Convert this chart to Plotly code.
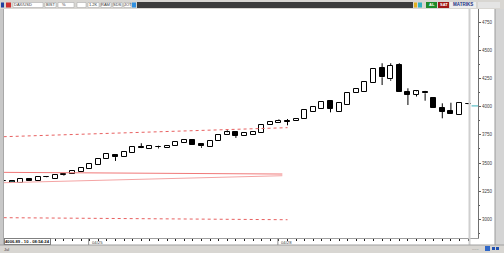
import plotly.graph_objects as go

W, H = 504, 253

# ---------------- data ----------------
idx = list(range(55))
opens = [3338, 3344, 3321, 3359, 3341, 3381, 3362, 3395, 3403, 3420,
         3450, 3486, 3539, 3569, 3551, 3592, 3640, 3627, 3646, 3638,
         3651, 3681, 3702, 3672, 3643, 3693, 3749, 3773, 3743, 3752,
         3764, 3835, 3858, 3872, 3870, 3891, 3956, 3980, 4050, 3956,
         4015, 4119, 4133, 4207, 4340, 4243, 4370, 4128, 4104, 4133,
         4080, 3986, 3962, 3926, 4028]
highs = [3345, 3346, 3359, 3359, 3379, 3383, 3397, 3410, 3427, 3456,
         3489, 3539, 3578, 3571, 3596, 3645, 3676, 3650, 3654, 3650,
         3687, 3702, 3702, 3672, 3693, 3752, 3791, 3773, 3764, 3776,
         3838, 3862, 3888, 3891, 3894, 3971, 3995, 4044, 4050, 4030,
         4119, 4154, 4216, 4332, 4385, 4385, 4385, 4163, 4145, 4140,
         4080, 4030, 4035, 4035, 4030]
lows = [3336, 3321, 3321, 3344, 3341, 3371, 3362, 3389, 3403, 3420,
        3450, 3486, 3539, 3519, 3551, 3592, 3633, 3627, 3630, 3638,
        3651, 3681, 3660, 3636, 3643, 3693, 3749, 3723, 3743, 3752,
        3764, 3835, 3858, 3835, 3870, 3891, 3956, 3980, 3950, 3956,
        4015, 4119, 4133, 4207, 4192, 4230, 4128, 4015, 4090, 4053,
        3986, 3897, 3935, 3926, 4018]
closes = [3343, 3321, 3359, 3344, 3379, 3373, 3397, 3403, 3427, 3456,
          3489, 3539, 3578, 3553, 3596, 3645, 3635, 3650, 3641, 3650,
          3687, 3702, 3660, 3649, 3693, 3752, 3773, 3740, 3764, 3776,
          3838, 3862, 3876, 3868, 3894, 3971, 3995, 4044, 3980, 4030,
          4119, 4154, 4216, 4332, 4261, 4361, 4128, 4106, 4136, 4119,
          3986, 3956, 3935, 4035, 4020]

# channel lines (candle index, price)
upper_dot_x = [0, 33]
upper_dot_y = [3734, 3814]
solid_a_x = [0, 32.4]
solid_a_y = [3418, 3403]
solid_b_x = [0, 32.4]
solid_b_y = [3326, 3388]
lower_dot_x = [0, 33]
lower_dot_y = [3016, 2998]

last_price = 4006.89
y_ticks = [3000, 3250, 3500, 3750, 4000, 4250, 4500, 4750]
y_tick_text = ["3000", "3250", "3500", "3750", "4000", "4250", "4500", "4750"]
date_labels = ["04/25", "04/28"]
date_label_idx = [10, 32]
status_text = "4006.89 - 10 - 08:54:24"

# ---------------- geometry helpers (chrome) ----------------
def px(x):
    return x / W

def py(y):
    return 1 - y / H

PLOT_L, PLOT_R, PLOT_T, PLOT_B = 4, 478, 9, 238

fig = go.Figure()

# wicks
wx, wy = [], []
for i, o, h, l, c in zip(idx, opens, highs, lows, closes):
    top, bot = max(o, c), min(o, c)
    if h > top:
        wx += [i, i, None]
        wy += [h, top, None]
    if l < bot:
        wx += [i, i, None]
        wy += [bot, l, None]
fig.add_trace(go.Scatter(x=wx, y=wy, mode="lines",
                         line=dict(color="#000000", width=1),
                         hoverinfo="skip", showlegend=False))

# bodies
bases, heights, fills = [], [], []
for i, o, c in zip(idx, opens, closes):
    bases.append(min(o, c))
    heights.append(abs(c - o))
    if i == 1:
        fills.append("#1d4f4f")
    elif c >= o:
        fills.append("#ffffff")
    else:
        fills.append("#000000")
fig.add_trace(go.Bar(x=idx, y=heights, base=bases, width=0.6,
                     marker=dict(color=fills, line=dict(color="#000000", width=1)),
                     showlegend=False, hoverinfo="skip"))

# channel lines
fig.add_trace(go.Scatter(x=upper_dot_x, y=upper_dot_y, mode="lines",
                         line=dict(color="#e86060", width=1, dash="dot"),
                         showlegend=False, hoverinfo="skip"))
fig.add_trace(go.Scatter(x=solid_a_x, y=solid_a_y, mode="lines",
                         line=dict(color="#f07878", width=1),
                         showlegend=False, hoverinfo="skip"))
fig.add_trace(go.Scatter(x=solid_b_x, y=solid_b_y, mode="lines",
                         line=dict(color="#f4a4a4", width=1),
                         showlegend=False, hoverinfo="skip"))
fig.add_trace(go.Scatter(x=lower_dot_x, y=lower_dot_y, mode="lines",
                         line=dict(color="#e86060", width=1, dash="dot"),
                         showlegend=False, hoverinfo="skip"))

# current price marker
fig.add_trace(go.Scatter(x=[54.4, 55.2], y=[last_price, last_price], mode="lines",
                         line=dict(color="#3cb4bc", width=1),
                         showlegend=False, hoverinfo="skip", cliponaxis=False))

shapes = []
def rect(x0, y0, x1, y1, fill, line=None, lw=0):
    shapes.append(dict(type="rect", xref="paper", yref="paper",
                       x0=px(x0), x1=px(x1), y0=py(y1), y1=py(y0),
                       fillcolor=fill, line=dict(color=line or fill, width=lw),
                       layer="above"))
def vline(x, y0, y1, color, w=1):
    shapes.append(dict(type="line", xref="paper", yref="paper",
                       x0=px(x), x1=px(x), y0=py(y1), y1=py(y0),
                       line=dict(color=color, width=w), layer="above"))
def hline(y, x0, x1, color, w=1):
    shapes.append(dict(type="line", xref="paper", yref="paper",
                       x0=px(x0), x1=px(x1), y0=py(y), y1=py(y),
                       line=dict(color=color, width=w), layer="above"))

# top toolbar
rect(0, 0, 504, 9, "#d8d6d2")
rect(137, 2, 413, 8, "#3c3c3c")
for (a, b) in [(13, 43), (45, 56), (58, 74), (77, 86), (88, 99), (101, 111), (113, 122), (124, 131)]:
    rect(a, 2.5, b, 7.5, "#ffffff", "#a0a0a0", 0.5)
rect(1, 2.5, 4, 7.5, "#2040a0")
rect(6, 2.5, 11, 7.5, "#d03030")
rect(132, 2.5, 136, 7.5, "#3090e0")
rect(414, 2.5, 417, 7.5, "#e0b020")
rect(418, 2.5, 422, 7.5, "#30b0c0")
rect(426, 2, 437, 8, "#1e8a2a")
rect(438, 2, 449, 8, "#a01818")
rect(450, 2, 476, 8, "#eeeeee")
rect(478, 2, 500, 8, "#e4e4e4")

# left border
rect(0, 9, 3, 245, "#c8c8c8")
vline(3.5, 9, 245, "#a8a8a8", 1)
# right border
rect(495, 9, 504, 245, "#d4d4d4")
vline(495, 9, 245, "#9a9a9a", 1)
# separator near right
vline(469.5, 9, 245, "#cfcfcf", 2)
# bottom bar
rect(0, 245, 504, 253, "#d8d6d2")
hline(245, 0, 504, "#a0a0a0", 1)
rect(485, 246, 490, 251, "#3068c8")
rect(492, 247, 495, 250, "#2050b0")
rect(496, 247, 499, 250, "#2050b0")

# date label ticks
for i in date_label_idx:
    xp = 3.7 + 8.6 * i - 1
    shapes.append(dict(type="line", xref="x", yref="paper", x0=i - 0.12, x1=i - 0.12,
                       y0=py(245), y1=py(238), line=dict(color="#909090", width=1)))

annotations = []
def text(x, y, s, size=4.5, color="#202020", anchor="left", bold=False, bg=None, border=None):
    annotations.append(dict(xref="paper", yref="paper", x=px(x), y=py(y), text=("<b>%s</b>" % s if bold else s),
                            showarrow=False, xanchor=anchor, yanchor="middle",
                            font=dict(size=size, color=color, family="Liberation Sans"),
                            bgcolor=bg, bordercolor=border, borderwidth=(1 if border else 0),
                            borderpad=0))

text(14, 5, "DAX/USD", 4, "#303030")
text(46, 5, "BIST", 4, "#303030")
text(62, 5, "%", 4, "#303030")
text(89, 5, "1.2K", 4, "#303030")
text(101, 5, "RAM", 4, "#303030")
text(113, 5, "SDS", 4, "#303030")
text(124, 5, "JOT", 4, "#303030")
text(431.5, 5, "AL", 4, "#ffffff", "center", True)
text(443.5, 5, "SAT", 4, "#ffffff", "center", True)
text(463, 5, "MATRIKS", 4.5, "#203080", "center", True)
text(4, 241.5, status_text, 4.2, "#101010", "left", True, "#ffffff", "#808080")
for i, s in zip(date_label_idx, date_labels):
    annotations.append(dict(xref="x", yref="paper", x=i, y=py(242), text=s, showarrow=False,
                            xanchor="left", yanchor="middle",
                            font=dict(size=4.2, color="#404040", family="Liberation Sans")))
text(4, 249, "Jul", 4, "#404040")
text(472, 248, "......", 4, "#606060")

fig.update_layout(
    width=W, height=H, autosize=False,
    margin=dict(l=0, r=0, t=0, b=0, pad=0),
    paper_bgcolor="#ffffff", plot_bgcolor="#ffffff",
    showlegend=False, bargap=0,
    shapes=shapes, annotations=annotations,
    font=dict(family="Liberation Sans", size=5, color="#333333"),
    xaxis=dict(domain=[px(PLOT_L), px(PLOT_R)], range=[0.035, 55.15],
               showgrid=False, zeroline=False, showline=True, linecolor="#a0a0a0", linewidth=1,
               ticks="outside", ticklen=2, tickwidth=1, tickcolor="#202020",
               tickvals=idx, showticklabels=False, fixedrange=True),
    yaxis=dict(domain=[py(PLOT_B), py(PLOT_T)], range=[2836, 4866], side="right",
               showgrid=False, zeroline=False, showline=True, linecolor="#707070", linewidth=1,
               ticks="outside", ticklen=2, tickwidth=1, tickcolor="#606060",
               tickvals=y_ticks, ticktext=y_tick_text,
               tickfont=dict(size=4.5, color="#404040", family="Liberation Sans"),
               minor=dict(dtick=125, tick0=0, ticks="outside", ticklen=1, tickcolor="#606060"),
               fixedrange=True),
)

fig.write_html("out.html")
